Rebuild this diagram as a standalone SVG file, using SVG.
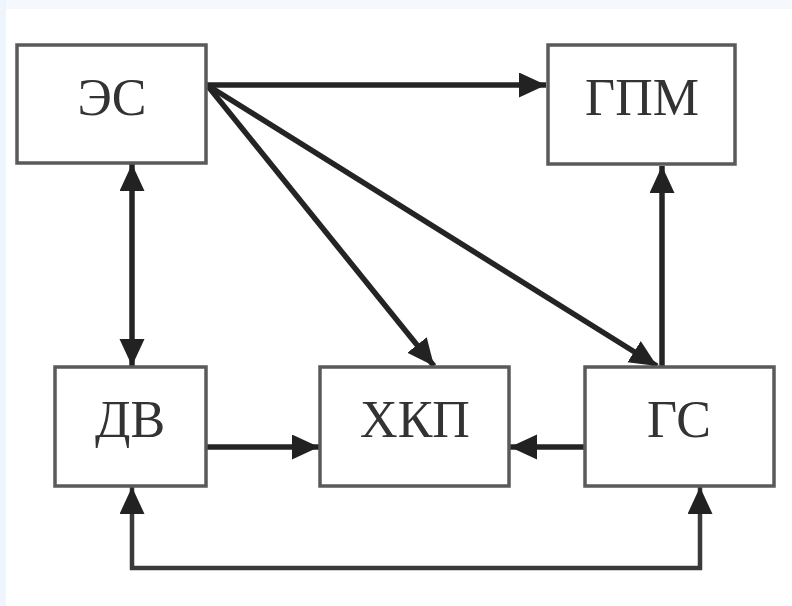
<svg xmlns="http://www.w3.org/2000/svg" width="792" height="606" viewBox="0 0 792 606">
  <style>
    .box { fill: #ffffff; stroke: #5a5a5a; stroke-width: 3.5; }
    .label { font-family: "Liberation Serif", "DejaVu Serif", serif; font-size: 52px; fill: #333333; text-anchor: middle; }
    .link { fill: none; stroke: #242424; stroke-width: 5.5; }
    .loop { fill: none; stroke: #3a3a3a; stroke-width: 4.5; }
  </style>
  <defs>
    <marker id="head" markerUnits="userSpaceOnUse" markerWidth="30" markerHeight="28" refX="27" refY="12.5" orient="auto-start-reverse" viewBox="0 0 30 28">
      <path d="M0,0 L27,12.5 L0,25 z" fill="#222222"/>
    </marker>
  </defs>

  <!-- page background with faint tinted edges -->
  <rect x="0" y="0" width="792" height="606" fill="#ffffff"/>
  <rect x="0" y="0" width="792" height="9" fill="#f5f9fe"/>
  <rect x="0" y="0" width="6" height="606" fill="#eff5fc"/>

  <g id="connectors">
    <!-- ЭС → ГПМ -->
    <line class="link" x1="207" y1="85" x2="546" y2="85" marker-end="url(#head)"/>
    <!-- ЭС → ХКП -->
    <line class="link" x1="207" y1="85" x2="434" y2="366" marker-end="url(#head)"/>
    <!-- ЭС → ГС -->
    <line class="link" x1="207" y1="85" x2="657" y2="366" marker-end="url(#head)"/>
    <!-- ГС → ГПМ -->
    <line class="link" x1="662" y1="367" x2="662" y2="166" marker-end="url(#head)"/>
    <!-- ЭС ↔ ДВ -->
    <line class="link" x1="132" y1="164" x2="132" y2="366" marker-start="url(#head)" marker-end="url(#head)"/>
    <!-- ДВ → ХКП -->
    <line class="link" x1="207" y1="447" x2="319" y2="447" marker-end="url(#head)"/>
    <!-- ГС → ХКП -->
    <line class="link" x1="585" y1="447" x2="510" y2="447" marker-end="url(#head)"/>
    <!-- ДВ ↔ ГС feedback loop -->
    <path class="loop" d="M132,487 L132,568 L700,568 L700,487" marker-start="url(#head)" marker-end="url(#head)"/>
  </g>

  <g id="node-es">
    <rect class="box" x="17" y="45" width="189" height="118"/>
    <text class="label" x="112" y="115">ЭС</text>
  </g>
  <g id="node-gpm">
    <rect class="box" x="548" y="45" width="187" height="119"/>
    <text class="label" x="642" y="115">ГПМ</text>
  </g>
  <g id="node-dv">
    <rect class="box" x="55" y="367" width="151" height="119"/>
    <text class="label" x="130" y="437">ДВ</text>
  </g>
  <g id="node-hkp">
    <rect class="box" x="320" y="367" width="189" height="119"/>
    <text class="label" x="415" y="437">ХКП</text>
  </g>
  <g id="node-gs">
    <rect class="box" x="585" y="367" width="189" height="119"/>
    <text class="label" x="679" y="437">ГС</text>
  </g>
</svg>
